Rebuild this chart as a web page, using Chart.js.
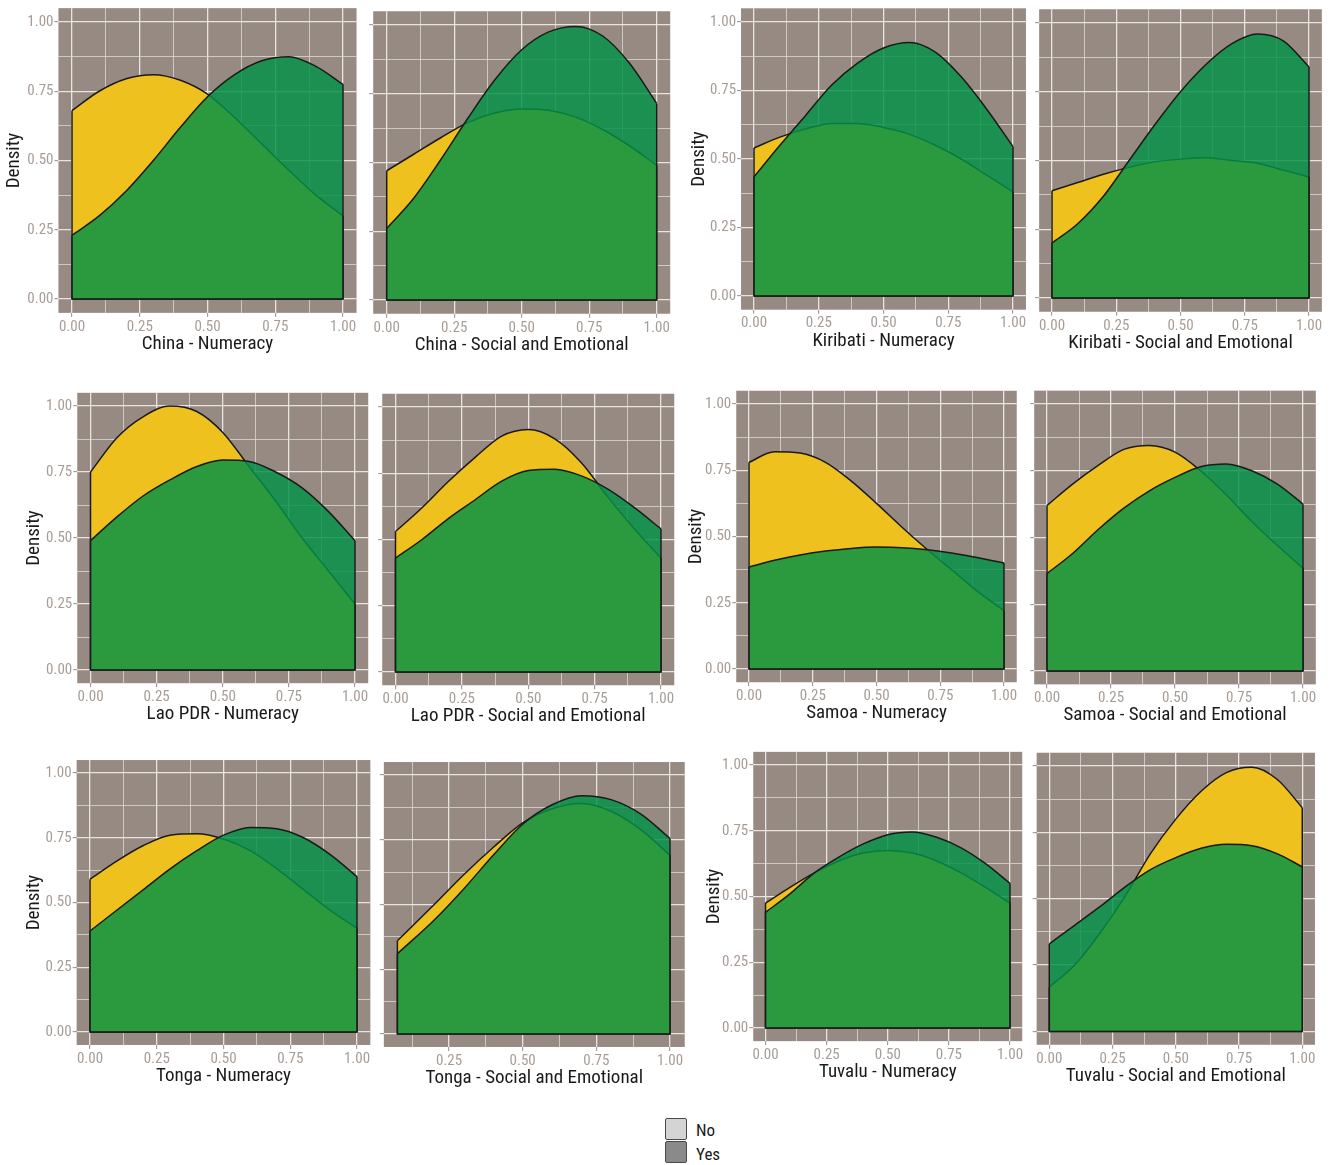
<!DOCTYPE html>
<html>
<head>
<meta charset="utf-8">
<script src="https://cdn.jsdelivr.net/npm/chart.js@4/dist/chart.umd.min.js"></script>
<style>
  body { margin: 0; background: #ffffff; }
  #wrap { position: relative; width: 1331px; height: 1165px; overflow: hidden; background: #ffffff; }
  #wrap canvas { position: absolute; }
  .lg-box { position: absolute; width: 22px; height: 22px; border: 1.5px solid #4a4a4a; border-radius: 2px; box-sizing: border-box; }
  .lg-txt { position: absolute; font-family: 'Roboto Condensed', 'Liberation Sans', Arial, sans-serif; font-size: 17px; color: #1a1a1a; line-height: 20px; }
</style>
</head>
<body>
<div id="wrap"></div>
<script>
// ---------------- data ----------------
const X_FULL = [0, 0.1, 0.2, 0.3, 0.4, 0.5, 0.6, 0.7, 0.8, 0.9, 1.0];
const X_TONGA_SE = [0.075, 0.2, 0.3, 0.4, 0.5, 0.6, 0.7, 0.8, 0.9, 1.0];

const chinaNumNo   = [0.68, 0.75, 0.795, 0.81, 0.79, 0.74, 0.655, 0.56, 0.465, 0.375, 0.30];
const chinaNumYes  = [0.23, 0.30, 0.39, 0.50, 0.62, 0.73, 0.81, 0.86, 0.875, 0.84, 0.775];
const chinaSeNo    = [0.47, 0.53, 0.59, 0.645, 0.68, 0.695, 0.69, 0.665, 0.62, 0.56, 0.49];
const chinaSeYes   = [0.26, 0.37, 0.51, 0.66, 0.80, 0.91, 0.975, 0.995, 0.96, 0.86, 0.715];
const kiriNumNo    = [0.54, 0.58, 0.61, 0.63, 0.63, 0.615, 0.59, 0.55, 0.50, 0.44, 0.38];
const kiriNumYes   = [0.435, 0.55, 0.66, 0.77, 0.85, 0.905, 0.925, 0.89, 0.80, 0.68, 0.545];
const kiriSeNo     = [0.39, 0.42, 0.45, 0.475, 0.495, 0.505, 0.51, 0.50, 0.49, 0.465, 0.44];
const kiriSeYes    = [0.20, 0.27, 0.37, 0.50, 0.63, 0.75, 0.85, 0.925, 0.96, 0.935, 0.84];
const laoNumNo     = [0.75, 0.88, 0.96, 1.0, 0.98, 0.90, 0.77, 0.64, 0.50, 0.375, 0.25];
const laoNumYes    = [0.49, 0.58, 0.66, 0.72, 0.77, 0.795, 0.79, 0.75, 0.69, 0.60, 0.49];
const laoSeNo      = [0.53, 0.62, 0.72, 0.81, 0.89, 0.915, 0.88, 0.79, 0.66, 0.54, 0.43];
const laoSeYes     = [0.43, 0.50, 0.58, 0.65, 0.72, 0.76, 0.765, 0.74, 0.69, 0.62, 0.54];
const samoaNumNo   = [0.78, 0.82, 0.815, 0.78, 0.71, 0.625, 0.535, 0.45, 0.37, 0.29, 0.22];
const samoaNumYes  = [0.385, 0.41, 0.43, 0.445, 0.455, 0.46, 0.458, 0.45, 0.437, 0.42, 0.40];
const samoaSeNo    = [0.62, 0.70, 0.77, 0.83, 0.845, 0.82, 0.75, 0.66, 0.56, 0.47, 0.385];
const samoaSeYes   = [0.365, 0.44, 0.53, 0.61, 0.675, 0.725, 0.765, 0.775, 0.75, 0.70, 0.625];
const tongaNumNo   = [0.59, 0.66, 0.72, 0.76, 0.765, 0.745, 0.70, 0.63, 0.55, 0.47, 0.40];
const tongaNumYes  = [0.39, 0.47, 0.55, 0.63, 0.70, 0.76, 0.79, 0.785, 0.75, 0.685, 0.60];
const tongaSeNo    = [0.36, 0.50, 0.615, 0.72, 0.815, 0.87, 0.89, 0.86, 0.79, 0.69];
const tongaSeYes   = [0.31, 0.44, 0.56, 0.69, 0.81, 0.885, 0.92, 0.905, 0.85, 0.755];
const tuvaluNumNo  = [0.475, 0.535, 0.59, 0.635, 0.665, 0.675, 0.665, 0.635, 0.59, 0.535, 0.475];
const tuvaluNumYes = [0.44, 0.51, 0.59, 0.65, 0.70, 0.735, 0.745, 0.725, 0.685, 0.625, 0.55];
const tuvaluSeNo   = [0.167, 0.25, 0.37, 0.51, 0.67, 0.80, 0.905, 0.975, 0.995, 0.95, 0.843];
const tuvaluSeYes  = [0.33, 0.40, 0.47, 0.545, 0.61, 0.655, 0.69, 0.705, 0.70, 0.67, 0.62];

const GRID_BREAKS = [0, 0.125, 0.25, 0.375, 0.5, 0.625, 0.75, 0.875, 1.0];
const SERIES_NAMES = ['No', 'Yes'];

const PANELS = [
  { title: 'China - Numeracy',                 xs: X_FULL,     no: chinaNumNo,  yes: chinaNumYes,  yLabels: true,  xmin: -0.05 },
  { title: 'China - Social and Emotional',     xs: X_FULL,     no: chinaSeNo,   yes: chinaSeYes,   yLabels: false, xmin: -0.05 },
  { title: 'Kiribati - Numeracy',              xs: X_FULL,     no: kiriNumNo,   yes: kiriNumYes,   yLabels: true,  xmin: -0.05 },
  { title: 'Kiribati - Social and Emotional',  xs: X_FULL,     no: kiriSeNo,    yes: kiriSeYes,    yLabels: false, xmin: -0.05 },
  { title: 'Lao PDR - Numeracy',               xs: X_FULL,     no: laoNumNo,    yes: laoNumYes,    yLabels: true,  xmin: -0.05 },
  { title: 'Lao PDR - Social and Emotional',   xs: X_FULL,     no: laoSeNo,     yes: laoSeYes,     yLabels: false, xmin: -0.05 },
  { title: 'Samoa - Numeracy',                 xs: X_FULL,     no: samoaNumNo,  yes: samoaNumYes,  yLabels: true,  xmin: -0.05 },
  { title: 'Samoa - Social and Emotional',     xs: X_FULL,     no: samoaSeNo,   yes: samoaSeYes,   yLabels: false, xmin: -0.05 },
  { title: 'Tonga - Numeracy',                 xs: X_FULL,     no: tongaNumNo,  yes: tongaNumYes,  yLabels: true,  xmin: -0.05 },
  { title: 'Tonga - Social and Emotional',     xs: X_TONGA_SE, no: tongaSeNo,   yes: tongaSeYes,   yLabels: false, xmin: 0.029 },
  { title: 'Tuvalu - Numeracy',                xs: X_FULL,     no: tuvaluNumNo, yes: tuvaluNumYes, yLabels: true,  xmin: -0.05 },
  { title: 'Tuvalu - Social and Emotional',    xs: X_FULL,     no: tuvaluSeNo,  yes: tuvaluSeYes,  yLabels: false, xmin: -0.05 }
];

// ---------------- layout (pixel of x=0, x=1, y=0, y=1, "Density" offset) ----------------
const GEO = [
  [72, 343, 299, 22, 43.5],
  [386.7, 656.7, 300, 25, 0],
  [754, 1013, 296, 22, 41],
  [1052, 1309, 298, 23, 0],
  [90.5, 355, 670, 406, 42],
  [395.5, 661, 672, 407, 0],
  [749, 1004, 669, 404, 39],
  [1047, 1303, 671, 404, 0],
  [90, 357, 1032, 773, 41.5],
  [375.3, 670, 1034, 775, 0],
  [765.5, 1010, 1028, 765, 38.5],
  [1049.3, 1302.3, 1031.5, 766, 0]
];

// ---------------- styles ----------------
function pickNarrow() {
  const c = document.createElement('canvas').getContext('2d');
  const test = 'Kiribati - Social and Emotional 0.00';
  c.font = '20px monospace';
  const base = c.measureText(test).width;
  const cands = ['Liberation Sans Narrow', 'Arial Narrow', 'Roboto Condensed', 'Nimbus Sans Narrow'];
  for (const f of cands) {
    c.font = "20px '" + f + "', monospace";
    if (Math.abs(c.measureText(test).width - base) > 0.5) return f;
  }
  return null;
}
const NARROW = pickNarrow();
const FONT = NARROW ? ("'" + NARROW + "', 'Liberation Sans', Arial, sans-serif") : "'Liberation Sans', Arial, sans-serif";
const TITLE_SIZE = NARROW ? 19 : 17;
const DENS_SIZE = NARROW ? 19 : 18.5;
const TICK_SIZE = NARROW ? 15 : 14;

const BG = '#968a82';
const NO_FILL = '#efc11e';
const YES_FILL = 'rgba(3,145,70,0.83)';
const OUTLINE = '#1a1a1a';
const TICK_TXT = '#a89d96';
const TITLE_TXT = '#1a1a1a';

const isMajor = v => Math.abs(v * 4 - Math.round(v * 4)) < 1e-6;

const bgPlugin = {
  id: 'panelBg',
  beforeDraw(chart) {
    const { ctx, chartArea: a } = chart;
    ctx.save();
    ctx.fillStyle = BG;
    ctx.fillRect(a.left, a.top, a.right - a.left, a.bottom - a.top);
    ctx.restore();
  }
};

const edgePlugin = {
  id: 'densityEdges',
  afterDatasetDraw(chart, args) {
    const pts = args.meta.data;
    if (!pts || !pts.length) return;
    const ds = chart.data.datasets[args.index];
    const y0 = chart.scales.y.getPixelForValue(0);
    const f = pts[0], l = pts[pts.length - 1];
    const ctx = chart.ctx;
    ctx.save();
    ctx.strokeStyle = ds.borderColor;
    ctx.lineWidth = ds.borderWidth;
    ctx.lineJoin = 'round';
    ctx.beginPath();
    ctx.moveTo(f.x, f.y);
    ctx.lineTo(f.x, y0);
    ctx.lineTo(l.x, y0);
    ctx.lineTo(l.x, l.y);
    ctx.stroke();
    ctx.restore();
  }
};

function gridOpts() {
  return {
    color: c => (c.tick && isMajor(c.tick.value)) ? 'rgba(238,233,230,0.95)' : 'rgba(222,215,211,0.8)',
    lineWidth: c => (c.tick && isMajor(c.tick.value)) ? 1.3 : 1,
    tickColor: c => (c.tick && isMajor(c.tick.value)) ? '#8e8e8e' : 'rgba(0,0,0,0)',
    tickWidth: 1,
    tickLength: 4,
    drawTicks: true,
    drawOnChartArea: true
  };
}

const wrap = document.getElementById('wrap');

PANELS.forEach((p, i) => {
  const [px0, px1, py0, py1, dens] = GEO[i];
  const xmin = p.xmin, xmax = 1.05, ymin = -0.05, ymax = 1.05;
  const ux = px1 - px0, uy = py0 - py1;
  const gl = px0 + xmin * ux, gr = px0 + xmax * ux;
  const gt = py0 - ymax * uy, gb = py0 - ymin * uy;
  const wTarget = p.yLabels ? dens + DENS_SIZE * 0.6 : 6;
  const cl = Math.floor(gl - wTarget);
  const W = gl - cl;
  const ct = Math.floor(gt - 2);
  const T = gt - ct;
  const cw = Math.ceil(gr + 4) - cl;
  const R = cl + cw - gr;
  const xH = 31 + TITLE_SIZE * 0.6;
  const ch = Math.ceil(gb + xH) - ct;
  const H = ct + ch - gb;

  const canvas = document.createElement('canvas');
  canvas.width = cw; canvas.height = ch;
  canvas.style.left = cl + 'px';
  canvas.style.top = ct + 'px';
  canvas.style.width = cw + 'px';
  canvas.style.height = ch + 'px';
  wrap.appendChild(canvas);

  const xGrid = GRID_BREAKS.filter(v => v >= xmin && v <= xmax);

  new Chart(canvas.getContext('2d'), {
    type: 'line',
    data: {
      datasets: [
        {
          label: SERIES_NAMES[0],
          data: p.xs.map((x, k) => ({ x: x, y: p.no[k] })),
          fill: 'origin',
          backgroundColor: NO_FILL,
          borderColor: OUTLINE,
          borderWidth: 1.5,
          pointRadius: 0,
          cubicInterpolationMode: 'monotone',
          order: 2
        },
        {
          label: SERIES_NAMES[1],
          data: p.xs.map((x, k) => ({ x: x, y: p.yes[k] })),
          fill: 'origin',
          backgroundColor: YES_FILL,
          borderColor: OUTLINE,
          borderWidth: 1.5,
          pointRadius: 0,
          cubicInterpolationMode: 'monotone',
          order: 1
        }
      ]
    },
    options: {
      responsive: false,
      animation: false,
      devicePixelRatio: 1,
      events: [],
      layout: { autoPadding: false, padding: { left: 0, top: T, right: R, bottom: 0 } },
      plugins: { legend: { display: false }, tooltip: { enabled: false } },
      scales: {
        x: {
          type: 'linear', min: xmin, max: xmax, bounds: 'data',
          afterBuildTicks: s => { s.ticks = xGrid.map(v => ({ value: v })); },
          afterFit: s => { s.height = H; s.paddingLeft = 0; s.paddingRight = 0; s.paddingTop = 0; s.paddingBottom = 0; },
          grid: gridOpts(),
          border: { display: false },
          ticks: {
            autoSkip: false, maxRotation: 0, minRotation: 0, padding: 1,
            color: TICK_TXT, font: { family: FONT, size: TICK_SIZE },
            callback: v => isMajor(v) ? Number(v).toFixed(2) : ''
          },
          title: { display: true, text: p.title, color: TITLE_TXT, font: { family: FONT, size: TITLE_SIZE }, padding: 0 }
        },
        y: {
          type: 'linear', min: ymin, max: ymax, bounds: 'data',
          afterBuildTicks: s => { s.ticks = GRID_BREAKS.map(v => ({ value: v })); },
          afterFit: s => { s.width = W; s.paddingTop = 0; s.paddingBottom = 0; s.paddingLeft = 0; s.paddingRight = 0; },
          grid: gridOpts(),
          border: { display: false },
          ticks: {
            autoSkip: false, padding: 1,
            color: TICK_TXT, font: { family: FONT, size: TICK_SIZE },
            callback: v => (p.yLabels && isMajor(v)) ? Number(v).toFixed(2) : ''
          },
          title: { display: p.yLabels, text: 'Density', color: TITLE_TXT, font: { family: FONT, size: DENS_SIZE }, padding: 0 }
        }
      }
    },
    plugins: [bgPlugin, edgePlugin]
  });
});

// ---------------- legend ----------------
const LEGEND_FILLS = ['#d4d4d4', '#8a8a8a'];
SERIES_NAMES.forEach((name, k) => {
  const box = document.createElement('div');
  box.className = 'lg-box';
  box.style.left = '665px';
  box.style.top = (1118 + k * 23) + 'px';
  box.style.background = LEGEND_FILLS[k];
  wrap.appendChild(box);
  const t = document.createElement('div');
  t.className = 'lg-txt';
  t.textContent = name;
  t.style.left = '696px';
  t.style.top = (1120 + k * 24) + 'px';
  wrap.appendChild(t);
});
</script>
</body>
</html>
